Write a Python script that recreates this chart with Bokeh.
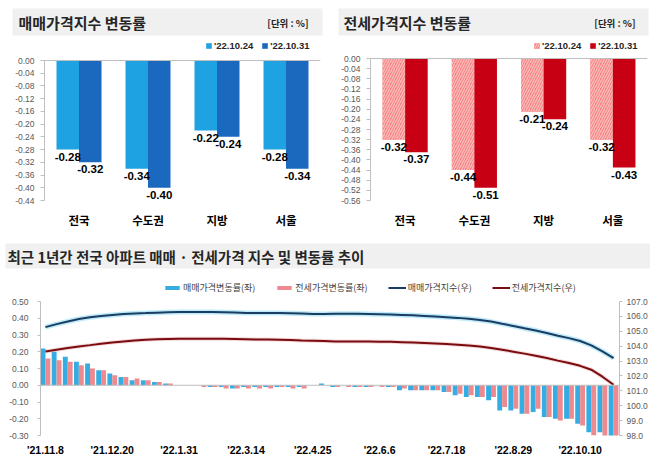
from bokeh.plotting import figure
from bokeh.models import (FactorRange, Range1d, LinearAxis, FixedTicker, Span, Legend,
                          LegendItem, ColumnDataSource, NumeralTickFormatter)
from bokeh.transform import dodge
from bokeh.layouts import column, row
from bokeh.embed import file_html
from bokeh.resources import INLINE
from bokeh.core.properties import value

# ---------------- data ----------------
regions = ["전국", "수도권", "지방", "서울"]
dates_top = ["'22.10.24", "'22.10.31"]
sale_prev = [-0.28, -0.34, -0.22, -0.28]
sale_curr = [-0.32, -0.40, -0.24, -0.34]
jeonse_prev = [-0.32, -0.44, -0.21, -0.32]
jeonse_curr = [-0.37, -0.51, -0.24, -0.43]

week_labels = ["'21.11.8", "'21.12.20", "'22.1.31", "'22.3.14", "'22.4.25",
               "'22.6.6", "'22.7.18", "'22.8.29", "'22.10.10"]
sale_rate = [0.22, 0.20, 0.17, 0.14, 0.13, 0.09, 0.07, 0.05, 0.03, 0.03, 0.02, 0.01,
             0.00, 0.00, 0.00, -0.01, -0.01, -0.02, -0.01, -0.01, -0.01, -0.01, -0.01, -0.01,
             0.00, 0.01, -0.01, 0.00, -0.01, -0.01, 0.00, -0.01, -0.03, -0.03, -0.03, -0.03,
             -0.04, -0.06, -0.07, -0.07, -0.09, -0.15, -0.15, -0.17, -0.16, -0.19, -0.20, -0.20,
             -0.23, -0.28, -0.28, -0.32]
jeonse_rate = [0.16, 0.15, 0.14, 0.12, 0.10, 0.09, 0.06, 0.05, 0.04, 0.03, 0.02, 0.01,
               0.00, 0.00, -0.01, -0.01, -0.02, -0.02, -0.02, -0.02, -0.02, -0.01, -0.02, -0.02,
               0.00, 0.00, -0.01, -0.01, -0.01, -0.01, -0.01, -0.01, -0.02, -0.03, -0.03, -0.03,
               -0.04, -0.05, -0.06, -0.07, -0.07, -0.13, -0.14, -0.17, -0.14, -0.19, -0.21, -0.20,
               -0.24, -0.30, -0.32, -0.37]
sale_index = [105.28, 105.48, 105.66, 105.82, 105.94, 106.03, 106.10, 106.16, 106.20, 106.22,
              106.25, 106.27, 106.29, 106.29, 106.29, 106.29, 106.28, 106.26, 106.23, 106.22,
              106.22, 106.22, 106.21, 106.19, 106.16, 106.16, 106.17, 106.17, 106.17, 106.16,
              106.14, 106.12, 106.10, 106.07, 106.03, 105.99, 105.95, 105.90, 105.84, 105.76,
              105.65, 105.50, 105.36, 105.20, 105.05, 104.88, 104.70, 104.54, 104.35, 104.05,
              103.65, 103.20]
jeonse_index = [103.64, 103.76, 103.88, 103.98, 104.07, 104.17, 104.25, 104.32, 104.38, 104.43,
                104.46, 104.48, 104.50, 104.50, 104.50, 104.50, 104.49, 104.48, 104.47, 104.45,
                104.44, 104.43, 104.41, 104.38, 104.36, 104.34, 104.32, 104.32, 104.32, 104.32,
                104.30, 104.29, 104.27, 104.24, 104.21, 104.18, 104.14, 104.10, 104.05, 103.98,
                103.88, 103.76, 103.63, 103.50, 103.36, 103.20, 103.03, 102.87, 102.68, 102.42,
                101.95, 101.41]

KR = "'Noto Sans CJK KR', 'Noto Sans', sans-serif"
NUM = "'Liberation Sans', Arial, sans-serif"
TICK_C = "#595959"
AXIS_C = "#bfbfbf"


def header(w, h, box, title, tx, ty, fs, unit=None, ux=None):
    p = figure(width=w, height=h, x_range=Range1d(0, w), y_range=Range1d(h, 0),
               x_axis_type=None, y_axis_type=None, min_border=0, toolbar_location=None,
               output_backend="svg", outline_line_color=None, frame_align=False)
    p.quad(left=box[0], right=box[1], top=box[2], bottom=box[3],
           fill_color="#f0f0f0", line_color=None)
    p.text(x=[tx], y=[ty], text=[title], text_font=value(KR), text_font_size=fs,
           text_font_style="bold", text_baseline="middle", text_color="#262626")
    if unit:
        p.text(x=[ux], y=[ty + 1], text=[unit], text_font=value(KR), text_font_size="9.5px",
               text_font_style="bold", text_baseline="middle", text_align="right",
               text_color="#262626")
    return p


def slim_axis(ax):
    ax.axis_label = None
    ax.axis_label_standoff = 0
    ax.axis_label_text_font_size = "0px"


def top_chart(prev, curr, y0px, ppu, step, nticks, fw, left_border, right_border,
              c_prev, c_curr, hatch, leg_x):
    FH = 168
    p = figure(frame_width=fw, frame_height=FH, x_range=FactorRange(*regions),
               y_range=Range1d(-(FH - y0px) / ppu, y0px / ppu),
               min_border_left=left_border, min_border_right=right_border,
               min_border_top=0, min_border_bottom=30, frame_align=False,
               toolbar_location=None, output_backend="svg", outline_line_color=None)
    src = ColumnDataSource(dict(cat=regions, prev=prev, curr=curr,
                                prev_lbl=[f"{v:.2f}" for v in prev],
                                curr_lbl=[f"{v:.2f}" for v in curr]))
    off, bw = 0.163, 0.326
    kw = {}
    if hatch:
        kw = dict(hatch_pattern="/", hatch_color="#fbb8b8", hatch_scale=5, hatch_weight=1.5)
    r1 = p.vbar(x=dodge("cat", -off, range=p.x_range), top=0, bottom="prev", width=bw,
                source=src, fill_color=c_prev, line_color=None, **kw)
    r2 = p.vbar(x=dodge("cat", off, range=p.x_range), top=0, bottom="curr", width=bw,
                source=src, fill_color=c_curr, line_color=None)
    for col, o in (("prev", -off), ("curr", off)):
        p.text(x=dodge("cat", o, range=p.x_range), y=col, text=col + "_lbl", source=src,
               text_align="center", text_baseline="top", y_offset=3,
               text_font=value(NUM), text_font_size="11.5px", text_font_style="bold",
               text_color="#000000")
    p.add_layout(Span(location=0, dimension="width", line_color=AXIS_C, line_width=1))
    ticks = [round(-step * i, 2) for i in range(nticks)]
    p.yaxis.ticker = FixedTicker(ticks=ticks)
    p.yaxis.formatter = NumeralTickFormatter(format="0.00")
    p.yaxis.bounds = (ticks[-1], 0)
    p.yaxis.axis_line_color = AXIS_C
    p.yaxis.major_tick_line_color = AXIS_C
    p.yaxis.major_tick_out = 4
    p.yaxis.major_tick_in = 0
    p.yaxis.minor_tick_line_color = None
    p.yaxis.major_label_standoff = 6
    p.yaxis.major_label_text_font = NUM
    p.yaxis.major_label_text_font_size = "8.5px"
    p.yaxis.major_label_text_color = TICK_C
    p.xaxis.axis_line_color = None
    p.xaxis.major_tick_line_color = None
    p.xaxis.major_tick_out = 0
    p.xaxis.major_tick_in = 0
    p.xaxis.major_label_standoff = 5
    p.xaxis.major_label_text_font = KR
    p.xaxis.major_label_text_font_size = "11.5px"
    p.xaxis.major_label_text_font_style = "bold"
    p.xaxis.major_label_text_color = "#000000"
    p.xgrid.visible = False
    p.ygrid.visible = False
    leg = Legend(items=[LegendItem(label=dates_top[0], renderers=[r1]),
                        LegendItem(label=dates_top[1], renderers=[r2])],
                 orientation="horizontal", location=(leg_x, 155),
                 glyph_width=7, glyph_height=7, label_height=12, label_standoff=2,
                 spacing=8, padding=0, margin=0, border_line_color=None,
                 background_fill_alpha=0, label_text_font=NUM,
                 label_text_font_size="9.5px", label_text_font_style="bold",
                 label_text_color="#262626")
    p.add_layout(leg)
    return p


h1 = header(325, 38, (12, 322, 8, 35), "매매가격지수 변동률", 18, 21.5, "15px",
            "[단위 : %]", 308)
h2 = header(325, 38, (13, 323, 8, 35), "전세가격지수 변동률", 18, 21.5, "15px",
            "[단위 : %]", 310)
p1 = top_chart(sale_prev, sale_curr, 22, 140 / 0.44, 0.04, 12, 276, 44, 5,
               "#1fa2e2", "#1a69be", False, 161)
p2 = top_chart(jeonse_prev, jeonse_curr, 20, 142 / 0.56, 0.04, 15, 277, 45, 3,
               "#f47a7a", "#c80014", True, 163)

h3 = header(650, 38, (5, 650, 7, 32),
            "최근 1년간 전국 아파트 매매 · 전세가격 지수 및 변동률 추이", 7, 19.5, "14.5px")

# ---------------- bottom chart ----------------
n = len(sale_rate)
xs = list(range(n))
ppx = 11.25
p3 = figure(width=650, frame_height=161, x_range=Range1d(-5 / ppx, n - 1 + 6 / ppx),
            y_range=Range1d(-0.30, 0.5 + 27 / 167.5),
            min_border_left=40, min_border_right=25, min_border_top=0, min_border_bottom=22,
            frame_align=False,
            toolbar_location=None, output_backend="svg", outline_line_color=None)
p3.extra_y_ranges = {"idx": Range1d(98, 107 + 27 * 9 / 134)}
src3 = ColumnDataSource(dict(x=xs, sale=sale_rate, jeonse=jeonse_rate,
                             si=sale_index, ji=jeonse_index))
b1 = p3.vbar(x=dodge("x", -0.22), top="sale", bottom=0, width=0.44, source=src3,
             fill_color="#35ade2", line_color=None)
b2 = p3.vbar(x=dodge("x", 0.22), top="jeonse", bottom=0, width=0.44, source=src3,
             fill_color="#ec8a90", line_color=None)
p3.add_layout(Span(location=0, dimension="width", line_color=AXIS_C, line_width=1))
p3.line("x", "si", source=src3, y_range_name="idx", line_color="#8fdcf2", line_width=5,
        line_alpha=0.6)
l1 = p3.line("x", "si", source=src3, y_range_name="idx", line_color="#1b3d63", line_width=2)
p3.line("x", "ji", source=src3, y_range_name="idx", line_color="#e0a0a0", line_width=4,
        line_alpha=0.4)
l2 = p3.line("x", "ji", source=src3, y_range_name="idx", line_color="#7a0c10", line_width=2)

lt = [round(-0.3 + 0.1 * i, 2) for i in range(9)]
p3.yaxis.ticker = FixedTicker(ticks=lt)
p3.yaxis.formatter = NumeralTickFormatter(format="0.00")
p3.yaxis.bounds = (-0.3, 0.5)
ax_r = LinearAxis(y_range_name="idx", ticker=FixedTicker(ticks=list(range(98, 108))),
                  formatter=NumeralTickFormatter(format="0.0"), bounds=(98, 107))
p3.add_layout(ax_r, "right")
for ax, so in ((p3.yaxis[0], 9), (ax_r, 4)):
    slim_axis(ax)
    ax.axis_line_color = AXIS_C
    ax.major_tick_line_color = AXIS_C
    ax.major_tick_out = 3
    ax.major_tick_in = 0
    ax.minor_tick_line_color = None
    ax.major_label_standoff = so
    ax.major_label_text_font = NUM
    ax.major_label_text_font_size = "8.5px"
    ax.major_label_text_color = TICK_C
tick_pos = [6 * i for i in range(len(week_labels))]
p3.xaxis.ticker = FixedTicker(ticks=tick_pos)
p3.xaxis.major_label_overrides = {t: lab for t, lab in zip(tick_pos, week_labels)}
p3.xaxis.axis_line_color = None
p3.xaxis.major_tick_line_color = None
p3.xaxis.major_tick_out = 0
p3.xaxis.major_tick_in = 0
p3.xaxis.minor_tick_line_color = None
p3.xaxis.major_label_standoff = 8
p3.xaxis.major_label_text_font = NUM
p3.xaxis.major_label_text_font_size = "10.5px"
p3.xaxis.major_label_text_font_style = "bold"
p3.xaxis.major_label_text_color = "#000000"
p3.xgrid.visible = False
p3.ygrid.visible = False
leg3 = Legend(items=[LegendItem(label="매매가격변동률(좌)", renderers=[b1]),
                     LegendItem(label="전세가격변동률(좌)", renderers=[b2]),
                     LegendItem(label="매매가격지수(우)", renderers=[l1]),
                     LegendItem(label="전세가격지수(우)", renderers=[l2])],
              orientation="horizontal", location=(123, 141),
              glyph_width=18, glyph_height=5, label_height=11, label_standoff=2,
              spacing=20, padding=0, margin=0, border_line_color=None,
              background_fill_alpha=0, label_text_font=KR, label_text_font_size="9px",
              label_text_color="#404040")
p3.add_layout(leg3)

layout = column(row(h1, h2), row(p1, p2), h3, p3)
open("out.html", "w").write(file_html(layout, INLINE))
